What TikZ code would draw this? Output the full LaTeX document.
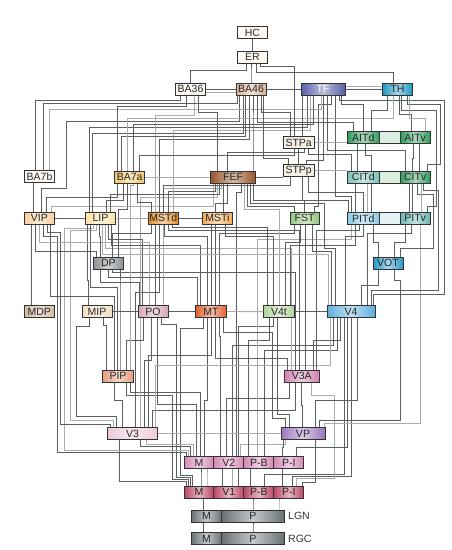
\documentclass[tikz,border=0pt]{standalone}
\usepackage{fontspec}
\newfontfamily\areafont{Liberation Sans}
\usetikzlibrary{backgrounds}

% colours of the areas
\definecolor{ivory}{HTML}{FFFBF4}
\definecolor{cbafs}{HTML}{D9B294}
\definecolor{ctf}{HTML}{5860A8}
\definecolor{cth}{HTML}{1F96C2}
\definecolor{cstp}{HTML}{F4EEE4}
\definecolor{cgreen}{HTML}{2F9C5C}
\definecolor{cmidg}{HTML}{DCEEE0}
\definecolor{ccitd}{HTML}{78C2B6}
\definecolor{cpitd}{HTML}{8CCBE2}
\definecolor{cpitv}{HTML}{68B6B2}
\definecolor{cmidb}{HTML}{E4F1F5}
\definecolor{cvot}{HTML}{2799C4}
\definecolor{cfef}{HTML}{995428}
\definecolor{cbasa}{HTML}{F2C66A}
\definecolor{cvip}{HTML}{F8CF9A}
\definecolor{clip}{HTML}{FBE3A6}
\definecolor{cmstd}{HTML}{E68A24}
\definecolor{cmsti}{HTML}{F3AA58}
\definecolor{cfst}{HTML}{92C67A}
\definecolor{cdp}{HTML}{8A9096}
\definecolor{cmdp}{HTML}{D3B9A0}
\definecolor{cmip}{HTML}{F2DFC0}
\definecolor{cpo}{HTML}{D6A4B8}
\definecolor{cmt}{HTML}{E2602E}
\definecolor{cvft}{HTML}{B2D49A}
\definecolor{cvf}{HTML}{5EAEDC}
\definecolor{cpip}{HTML}{E69C7C}
\definecolor{cvta}{HTML}{D282AC}
\definecolor{cvt}{HTML}{ECC8DA}
\definecolor{cvp}{HTML}{9C78BE}
\definecolor{cvtwo}{HTML}{D488B4}
\definecolor{cvone}{HTML}{BC4666}
\definecolor{clgn}{HTML}{6A7276}
\definecolor{wiredark}{HTML}{5A5F64}
\definecolor{wirelight}{HTML}{A8ACB0}

\tikzset{
  area/.style={draw=black!80, line width=0.8pt, minimum width=30pt,
    minimum height=12pt, inner sep=0pt, text=black!85,
    font=\areafont\fontsize{10.5}{12}\selectfont},
  glow/.style={left color=#1, right color=#1, middle color=#1!40!white},
  tag/.style={inner sep=0pt, text=black!80, font=\areafont\fontsize{10.5}{12}\selectfont},
  wire/.style={draw=wiredark, line width=0.7pt},
  wirel/.style={draw=wirelight, line width=0.9pt}
}

% connector: up from the top of #2, across at height #4, up into the bottom of #5
\newcommand\conn[6][wire]{%
  \coordinate (cs) at ([xshift=#3pt]#2.north);
  \coordinate (ct) at ([xshift=#6pt]#5.south);
  \draw[#1] (cs) -- (cs |- 0,#4) -| (ct);}
% connector with a detour through the vertical lane x = #5
\newcommand\connx[8][wire]{%
  \coordinate (cs) at ([xshift=#3pt]#2.north);
  \coordinate (ct) at ([xshift=#8pt]#7.south);
  \draw[#1] (cs) -- (cs |- 0,#4) -- (#5,#4) -- (#5,#6) -| (ct);}

\begin{document}
\begin{tikzpicture}[x=1pt, y=-1pt]
  \useasboundingbox (0,0) rectangle (452,550);

  % Hippocampal and frontal levels
  \node[area, fill=ivory] (HC) at (252.5,32.5) {HC};
  \node[area, fill=ivory] (ER) at (252.5,57) {ER};
  \node[area, fill=ivory] (BA36) at (190.5,89) {BA36};
  \node[area, glow=cbafs] (BA46) at (251,89) {BA46};
  \node[area, glow=ctf, minimum width=44pt, text=white] (TF) at (323,89) {TF};
  \node[area, glow=cth] (TH) at (397.5,89) {TH};

  % Temporal areas
  \node[area, fill=cstp, minimum width=31pt] (STPa) at (298.7,142.5) {STPa};
  \node[area, fill=cstp, minimum width=31pt] (STPp) at (298.7,170.7) {STPp};
  \node[area, glow=cgreen, minimum width=32pt] (AITd) at (363.3,137.5) {AITd};
  \node[area, fill=cmidg, minimum width=21pt] (AITm) at (389.7,137.5) {};
  \node[area, glow=cgreen] (AITv) at (415.2,137.5) {AITv};
  \node[area, glow=ccitd, minimum width=32pt] (CITd) at (363.3,177) {CITd};
  \node[area, fill=cmidg, minimum width=21pt] (CITm) at (389.7,177) {};
  \node[area, glow=cgreen] (CITv) at (415.2,177) {CITv};
  \node[area, glow=cpitd, minimum width=32pt] (PITd) at (363.3,218.3) {PITd};
  \node[area, fill=cmidb, minimum width=21pt] (PITm) at (389.7,218.3) {};
  \node[area, glow=cpitv] (PITv) at (415.2,218.3) {PITv};

  % Parietal and frontal eye field
  \node[area, fill=ivory] (BA7b) at (39.5,176.7) {BA7b};
  \node[area, glow=cbasa] (BA7a) at (129.7,177) {BA7a};
  \node[area, glow=cfef, minimum width=45pt] (FEF) at (233,177) {FEF};
  \node[area, glow=cvip] (VIP) at (39.3,218) {VIP};
  \node[area, glow=clip] (LIP) at (100.5,218) {LIP};
  \node[area, glow=cmstd] (MSTd) at (163.3,218) {MSTd};
  \node[area, glow=cmsti] (MSTi) at (217.5,218) {MSTi};
  \node[area, glow=cfst, minimum width=29pt] (FST) at (304.5,218.3) {FST};
  \node[area, glow=cdp] (DP) at (108.3,263) {DP};
  \node[area, glow=cvot] (VOT) at (388,263.3) {VOT};

  % Middle levels
  \node[area, glow=cmdp] (MDP) at (39.3,311.5) {MDP};
  \node[area, glow=cmip] (MIP) at (97,311.5) {MIP};
  \node[area, glow=cpo] (PO) at (153,311.5) {PO};
  \node[area, glow=cmt, minimum width=31pt] (MT) at (211,311.5) {MT};
  \node[area, glow=cvft, minimum width=31pt] (V4t) at (279,311.7) {V4t};
  \node[area, glow=cvf, minimum width=48pt] (V4) at (351,311.7) {V4};
  \node[area, glow=cpip, minimum width=31pt] (PIP) at (118,376) {PIP};
  \node[area, glow=cvta, minimum width=35pt] (V3A) at (301.7,376) {V3A};
  \node[area, glow=cvt, minimum width=50pt] (V3) at (132.5,433.5) {V3};
  \node[area, glow=cvp, minimum width=44pt] (VP) at (303,433.5) {VP};

  % V2, V1, LGN, RGC
  \node[area, glow=cvtwo, minimum width=29.5pt] (V2M) at (199,462.5) {M};
  \node[area, glow=cvtwo] (V2c) at (228.8,462.5) {V2};
  \node[area, glow=cvtwo] (V2PB) at (258.8,462.5) {P-B};
  \node[area, glow=cvtwo] (V2PI) at (288.8,462.5) {P-I};
  \node[area, glow=cvone, minimum width=29.5pt] (V1M) at (199,492) {M};
  \node[area, glow=cvone] (V1c) at (228.8,492) {V1};
  \node[area, glow=cvone] (V1PB) at (258.8,492) {P-B};
  \node[area, glow=cvone] (V1PI) at (288.8,492) {P-I};
  \node[area, glow=clgn, minimum width=30.4pt] (LGNM) at (206.5,516) {M};
  \node[area, glow=clgn, minimum width=62.6pt] (LGNP) at (253,516) {P};
  \node[area, glow=clgn, minimum width=30.4pt] (RGCM) at (206.5,538.5) {M};
  \node[area, glow=clgn, minimum width=62.6pt] (RGCP) at (253,538.5) {P};
  \node[tag, anchor=west] (LGNtag) at (288,516) {LGN};
  \node[tag, anchor=west] (RGCtag) at (288,538.5) {RGC};

  \begin{pgfonlayer}{background}
  % Retina and LGN
  \conn{RGCM}{-3}{527}{LGNM}{-3}
  \conn{RGCP}{0}{527}{LGNP}{0}
  \conn{LGNM}{-3}{503}{V1M}{4.5}
  \conn{LGNP}{0}{503}{V1PB}{-5.8}
  \conn[wirel]{LGNP}{26}{503}{V1PI}{-9.8}

  % From V1
  \conn{V1M}{-13}{481}{V3}{-13}
  \connx{V1M}{-11}{479}{172}{395}{PIP}{8}
  \connx{V1M}{-9}{477}{176}{324}{PO}{8}
  \connx{V1M}{-7}{475}{180}{328}{MT}{-8}
  \conn{V1M}{2}{476}{V2M}{2}
  \conn[wirel]{V1M}{8}{476}{V2M}{8}
  \conn{V1c}{-6}{476}{V2c}{-6}
  \conn[wirel]{V1c}{4}{476}{V2c}{4}
  \conn{V1c}{10}{326}{V4t}{-6}
  \conn{V1PB}{-8}{476}{V2PB}{-8}
  \conn{V1PB}{6}{474}{V4}{-7}
  \conn{V1PI}{-6}{476}{V2PI}{-6}
  \conn{V1PI}{4}{476}{V4}{0}
  \connx[wirel]{V1PI}{8}{478}{334}{395}{V3A}{10}
  \conn{V1PI}{14}{482}{VP}{12}

  % From V2
  \connx{V2M}{-13}{452}{57}{236}{VIP}{4}
  \connx[wirel]{V2M}{-11}{450}{64}{228}{LIP}{-7}
  \conn{V2M}{-9}{446}{V3}{8}
  \conn[wirel]{V2M}{-6}{444}{V3}{14}
  \conn{V2M}{-3}{404}{PO}{4}
  \conn{V2M}{1}{392}{PIP}{12}
  \conn{V2M}{5}{400}{MT}{-4}
  \conn{V2c}{-8}{336}{MT}{8}
  \conn{V2c}{-2}{398}{V3A}{-12}
  \conn{V2c}{4}{345}{V4}{-18}
  \conn{V2c}{8}{192}{FEF}{8}
  \conn[wirel]{V2c}{12}{444}{VP}{-18}
  \conn{V2PB}{-10}{340}{V4t}{-10}
  \conn[wirel]{V2PB}{-1}{239}{PITd}{-12}
  \conn{V2PB}{6}{350}{V4}{-14}
  \conn{V2PI}{-6}{447}{VP}{-20}
  \conn{V2PI}{8}{447}{V4}{-4}

  % From V3 and VP
  \connx{V3}{-22}{424}{60}{232}{VIP}{8}
  \connx[wirel]{V3}{-19}{420}{70}{230}{LIP}{-4}
  \connx{V3}{-16}{416}{76}{326}{MIP}{-8}
  \conn{V3}{-10}{400}{PIP}{-4}
  \conn{V3}{3}{292}{MSTd}{-4}
  \conn[wirel]{V3}{8}{197}{FEF}{-16}
  \conn{V3}{12}{360}{PO}{-2}
  \conn{V3}{16}{355}{MT}{0}
  \conn{V3}{20}{410}{V3A}{-6}
  \conn[wirel]{V3}{23}{365}{V4}{-21}
  \connx{VP}{-18}{418}{272}{332}{MT}{12}
  \conn{VP}{-14}{414}{V4t}{-2}
  \conn{VP}{-1}{405}{V3A}{0}
  \conn{VP}{12}{400}{V4}{6}
  \connx{VP}{16}{420}{400}{280}{VOT}{6}
  \conn[wirel]{VP}{21}{423}{PITv}{5}

  % From V3A and PIP
  \conn{V3A}{-14}{358}{MT}{4}
  \conn[wirel]{V3A}{-10}{248}{LIP}{5}
  \conn{V3A}{-6}{272}{DP}{4}
  \conn{V3A}{-2}{230}{MSTd}{5}
  \conn{V3A}{4}{242}{FST}{1}
  \conn{V3A}{12}{340}{V4}{-11}
  \conn{V3A}{15}{230}{PITd}{-4}
  \conn{PIP}{-12}{325}{MIP}{6}
  \conn{PIP}{-4}{296}{VIP}{11}
  \conn{PIP}{-1}{287}{LIP}{-10}
  \conn{PIP}{2}{290}{DP}{11.7}
  \conn{PIP}{8}{340}{PO}{-10}
  \conn[wirel]{PIP}{12}{185}{BA7a}{4}

  % From MDP, MIP, PO, MT
  \conn{MDP}{-8}{260}{VIP}{-8}
  \conn{MIP}{-9}{280}{LIP}{-13}
  \conn{PO}{-14}{282}{DP}{-8}
  \conn{PO}{-11}{239}{LIP}{8}
  \conn[wirel]{PO}{-4}{242}{VIP}{0}
  \conn{PO}{2}{239}{MSTd}{-8}
  \conn[wirel]{PO}{10}{188}{FEF}{-12}
  \conn{MT}{-14}{277}{DP}{0}
  \conn{MT}{-11}{245}{LIP}{11}
  \conn{MT}{-4}{236}{MSTd}{1}
  \conn{MT}{0}{239}{MSTi}{-6}
  \conn{MT}{4}{203}{FEF}{-6}
  \conn{MT}{8}{233}{FST}{-10}

  % From V4t and V4
  \conn{V4t}{-12}{227}{MSTd}{9}
  \conn{V4t}{-6}{236}{MSTi}{8}
  \conn[wirel]{V4t}{0}{209}{FEF}{11}
  \conn{V4t}{6}{242}{FST}{-4}
  \conn{V4t}{11}{245}{PITd}{-8}
  \conn[wirel]{V4}{-23}{254}{LIP}{2}
  \conn{V4}{-20}{251}{FST}{8}
  \connx{V4}{-16}{248}{324}{203}{FEF}{17}
  \conn{V4}{-6}{236}{PITd}{0}
  \conn{V4}{10}{285}{VOT}{-10}
  \conn{V4}{16}{233}{PITv}{-4}
  \connx{V4}{20}{290}{438}{190}{CITv}{8}
  \connx{V4}{22}{294}{444}{100}{TF}{16}

  % From DP and VOT
  \conn{DP}{-12}{251}{VIP}{-4}
  \conn{DP}{-8}{236}{LIP}{-1}
  \conn{DP}{4}{233}{MSTd}{-12}
  \conn{DP}{10}{209}{BA7a}{-2}
  \conn{VOT}{-10}{242}{PITd}{10}
  \conn{VOT}{6}{242}{PITv}{-10}
  \connx{VOT}{12}{248}{433}{194}{CITv}{2}

  % From VIP, LIP, MSTd, MSTi, FST
  \conn{VIP}{-6}{200}{BA7b}{-6}
  \connx{VIP}{2}{188}{66}{121}{BA46}{-12}
  \conn{VIP}{7}{197}{BA7a}{-12}
  \conn[wirel]{VIP}{12}{206}{FEF}{-20}
  \conn{LIP}{-11}{127}{TF}{-16}
  \conn{LIP}{-8}{133}{BA46}{-8}
  \conn{LIP}{6}{200}{BA7a}{-6}
  \conn{LIP}{10}{194}{FEF}{-14}
  \conn{MSTd}{-12}{202}{BA7a}{8}
  \conn[wirel]{MSTd}{-8}{115}{BA36}{4}
  \conn{MSTd}{-4}{139}{BA46}{-2}
  \conn{MSTd}{0}{185}{STPp}{-8}
  \conn{MSTd}{5}{191}{FEF}{-18}
  \conn[wirel]{MSTd}{10}{130}{TF}{-13}
  \conn{MSTi}{6}{195}{FEF}{-9.5}
  \conn{FST}{-10}{206}{FEF}{14}
  \conn{FST}{0}{200}{STPp}{4}
  \connx{FST}{10}{206}{318}{104}{TF}{8}

  % From PIT
  \conn{PITd}{-15}{200}{FEF}{20}
  \conn{PITd}{-12}{196}{TF}{12}
  \conn{PITd}{-8}{200}{CITd}{-8}
  \conn{PITd}{0}{192}{STPp}{10}
  \conn[wirel]{PITd}{4}{200}{CITd}{4}
  \conn{PITd}{8}{155}{AITd}{2}
  \conn{PITv}{-6}{200}{CITv}{-6}
  \conn{PITv}{-3}{158}{AITv}{-2}
  \conn[wirel]{PITv}{6}{200}{CITv}{6}
  \connx{PITv}{12}{206}{436}{110}{TH}{4}

  % From BA7, FEF, STP, CIT, AIT
  \conn{BA7b}{-4}{100}{BA36}{-10}
  \conn{BA7b}{4}{103}{BA46}{-14}
  \conn[wirel]{BA7b}{10}{109}{TF}{-2}
  \conn{BA7a}{-12}{106}{BA36}{-4}
  \conn{BA7a}{-8}{136}{BA46}{-6}
  \conn[wirel]{BA7a}{-2}{118}{TH}{-4}
  \conn{BA7a}{4}{124}{TF}{-10}
  \conn{BA7a}{10}{155}{STPa}{-4}
  \conn{FEF}{-16}{112}{BA36}{8}
  \conn{FEF}{-6}{152}{STPa}{6}
  \conn{FEF}{20}{130}{BA46}{2}
  \conn{STPp}{-10}{158}{BA46}{12}
  \conn{STPp}{0}{155}{STPa}{0}
  \conn{STPp}{8}{160}{TF}{0}
  \conn{CITd}{-12}{154}{STPa}{10}
  \conn{CITd}{-6}{160}{AITd}{-6}
  \conn{CITv}{-10}{150}{TF}{4}
  \conn{CITv}{4}{160}{AITv}{4}
  \connx{CITv}{12}{164}{440}{104}{TH}{10}
  \conn{AITd}{-10}{122}{BA46}{6}
  \conn{AITd}{0}{104}{TF}{18}
  \conn{AITd}{8}{110}{TH}{-10}
  \conn{AITv}{-4}{114}{TH}{2}
  \conn[wirel]{AITv}{10}{118}{TH}{12}
  \conn{STPa}{-8}{112}{BA46}{10}
  \conn{STPa}{-4}{66}{ER}{8}
  \conn{STPa}{4}{110}{TF}{-20.3}

  % Top of the hierarchy
  \conn{BA36}{0}{70}{ER}{-6}
  \conn{BA46}{0}{74}{ER}{-1.5}
  \conn{TH}{-4}{72}{ER}{4}
  \conn{ER}{0}{45}{HC}{0}

  % Links between neighbours on one level
  \draw[wire] (BA36.east) -- (BA46.west);
  \draw[wirel] ([yshift=-3pt]BA36.east) -- ([yshift=-3pt]BA46.west);
  \draw[wire] (BA46.east) -- (TF.west);
  \draw[wire] (TF.east) -- (TH.west);
  \draw[wirel] ([yshift=3pt]TF.east) -- ([yshift=3pt]TH.west);
  \draw[wirel] (STPa.east) -- (STPa.east -| AITd.west);
  \draw[wirel] (STPp.east) -- (STPp.east -| CITd.west);
  \draw[wire] (FEF.east) -- (FEF.east -| STPp.west);
  \draw[wirel] (BA7a.east) -- (FEF.west);
  \draw[wire] (VIP.east) -- (LIP.west);
  \draw[wirel] (LIP.east) -- (MSTd.west);
  \draw[wire] (MSTd.east) -- (MSTi.west);
  \draw[wire] (MIP.east) -- (PO.west);
  \draw[wire] (PO.east) -- (MT.west);
  \draw[wirel] (MT.east) -- (V4t.west);
  \draw[wire] (V4t.east) -- (V4.west);
  \draw[wirel] (V3.east) -- (VP.west);
  \end{pgfonlayer}
\end{tikzpicture}
\end{document}
